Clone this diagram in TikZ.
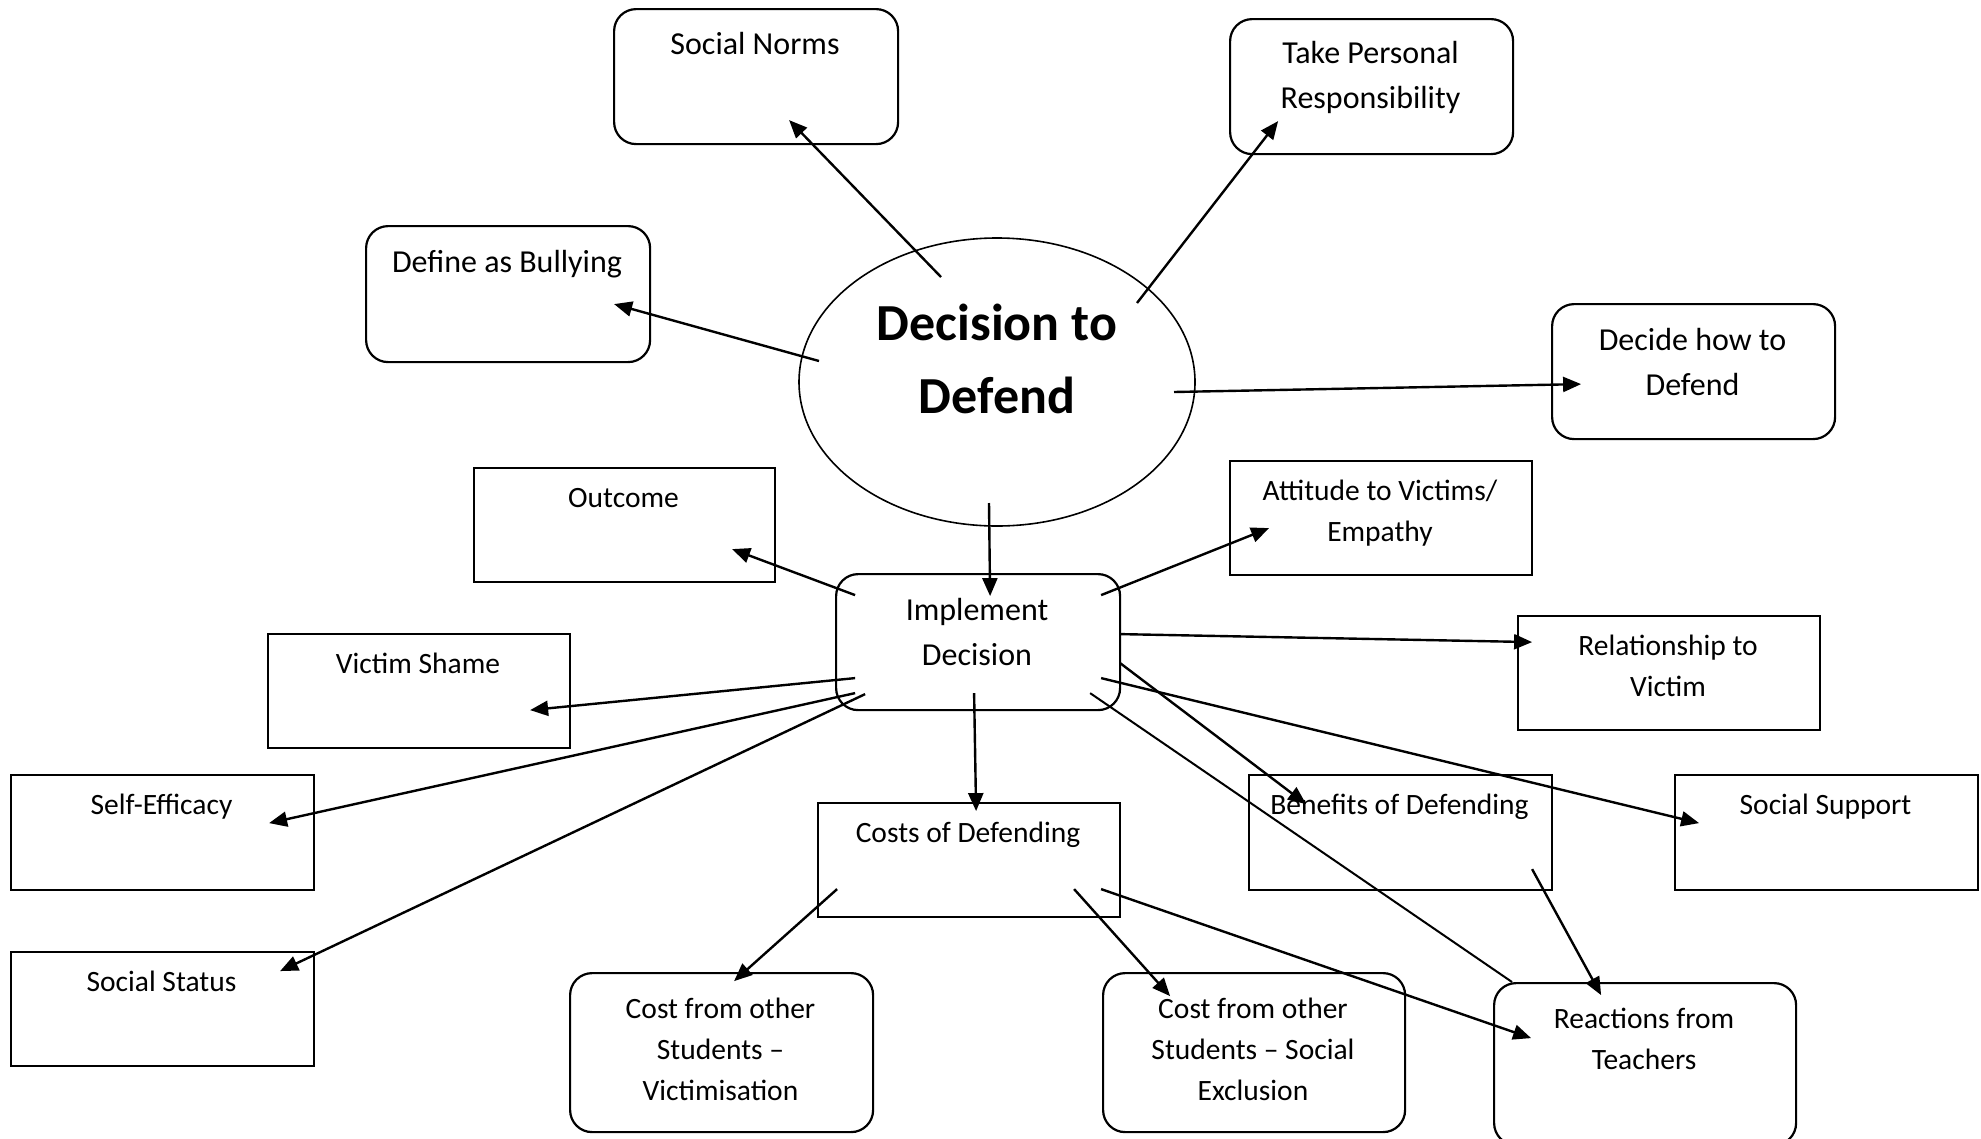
\documentclass[tikz,border=0pt]{standalone}
\usepackage{fontspec}
\setmainfont{Carlito}
\usetikzlibrary{shapes.geometric,arrows.meta}
\begin{document}
\begin{tikzpicture}[x=1pt,y=-1pt,
  box/.style={draw,line width=2.2pt,inner sep=0pt,anchor=north west},
  rbox/.style={box,rounded corners=22pt},
  % multi-line texts are placed by the baseline of their last line
  txt/.style={font=\fontsize{29.5}{41}\selectfont,align=center,anchor=base,inner sep=0pt},
  wtxt/.style={txt,font=\fontsize{32}{45}\selectfont},
  arr/.style={-{Triangle[length=18pt,width=15pt]},line width=2.4pt},
  plain/.style={line width=2pt}]
\useasboundingbox[fill=white] (0,0) rectangle (1981,1138);

% central decision
\node[ellipse,draw,line width=1.6pt,minimum width=396pt,minimum height=288pt,inner sep=0pt] (dd) at (997,382) {};
\node[txt,font=\fontsize{52}{73}\selectfont\bfseries] (ddt) at (997,413) {Decision to\\Defend};

% rounded boxes
\node[rbox,minimum width=284pt,minimum height=135pt] (sn) at (613,8) {};
\node[rbox,minimum width=283pt,minimum height=135pt] (tp) at (1229,18) {};
\node[rbox,minimum width=284pt,minimum height=136pt] (db) at (365,225) {};
\node[rbox,minimum width=283pt,minimum height=135pt] (dh) at (1551,303) {};
\node[rbox,minimum width=284pt,minimum height=136pt] (id) at (835,573) {};
\node[rbox,minimum width=303pt,minimum height=159pt] (cv) at (569,972) {};
\node[rbox,minimum width=302pt,minimum height=159pt] (cx) at (1102,972) {};
\node[rbox,minimum width=302pt,minimum height=162pt] (rt) at (1493,982) {};

% square boxes
\node[box,minimum width=301pt,minimum height=114pt] (oc) at (473,467) {};
\node[box,minimum width=302pt,minimum height=114pt] (at) at (1229,460) {};
\node[box,minimum width=302pt,minimum height=114pt] (vs) at (267,633) {};
\node[box,minimum width=302pt,minimum height=114pt] (rv) at (1517,615) {};
\node[box,minimum width=303pt,minimum height=115pt] (se) at (10,774) {};
\node[box,minimum width=302pt,minimum height=114pt] (cd) at (817,802) {};
\node[box,minimum width=303pt,minimum height=115pt] (bd) at (1248,774) {};
\node[box,minimum width=303pt,minimum height=115pt] (ss) at (1674,774) {};
\node[box,minimum width=303pt,minimum height=114pt] (st) at (10,951) {};

% box texts
\node[wtxt] (snt) at (755,54) {Social Norms};
\node[wtxt] (tpt) at (1370.5,108) {Take Personal\\Responsibility};
\node[wtxt] (dbt) at (507,272) {Define as Bullying};
\node[wtxt] (dht) at (1692.5,395) {Decide how to\\Defend};
\node[txt] (oct) at (623.5,507) {Outcome};
\node[txt] (att) at (1380,541) {Attitude to Victims/\\Empathy};
\node[wtxt] (idt) at (977,665) {Implement\\Decision};
\node[txt] (vst) at (418,673) {Victim Shame};
\node[txt] (rvt) at (1668,696) {Relationship to\\Victim};
\node[txt] (set) at (161.5,814) {Self-Efficacy};
\node[txt] (cdt) at (968,842) {Costs of Defending};
\node[txt] (bdt) at (1399.5,814) {Benefits of Defending};
\node[txt] (sst) at (1825.5,814) {Social Support};
\node[txt] (stt) at (161.5,991) {Social Status};
\node[txt] (cvt) at (720.5,1100) {Cost from other\\Students –\\Victimisation};
\node[txt] (cxt) at (1253,1100) {Cost from other\\Students – Social\\Exclusion};
\node[txt] (rtt) at (1644,1069) {Reactions from\\Teachers};

% connectors from the decision
\draw[arr] ([shift={(-56,-105)}]dd.center) -- ([shift={(33,43.5)}]sn.center);
\draw[arr] ([shift={(140,-79)}]dd.center) -- ([shift={(-93.5,34.5)}]tp.center);
\draw[arr] ([shift={(-178,-21)}]dd.center) -- ([shift={(106,10)}]db.center);
\draw[arr] ([shift={(177,10)}]dd.center) -- ([shift={(-112.5,12.5)}]dh.center);
\draw[arr] ([shift={(-8,121)}]dd.center) -- ([shift={(12,-46)}]id.center);

% connectors from the implementation
\draw[arr] ([shift={(-123,-47)}]id.center) -- ([shift={(107.5,24)}]oc.center);
\draw[arr] ([shift={(123,-47)}]id.center) -- ([shift={(-112,10)}]at.center);
\draw[arr] ([shift={(142,-8)}]id.center) -- ([shift={(-137,-31)}]rv.center);
\draw[arr] ([shift={(-123,36)}]id.center) -- ([shift={(111,19)}]vs.center);
\draw[arr] ([shift={(-123,51)}]id.center) -- ([shift={(106.5,-9.5)}]se.center);
\draw[arr] ([shift={(-113,52)}]id.center) -- ([shift={(117.5,-38)}]st.center);
\draw[arr] ([shift={(-4,51)}]id.center) -- ([shift={(7,-49)}]cd.center);
\draw[arr] ([shift={(142,21)}]id.center) -- ([shift={(-94.5,-28.5)}]bd.center);
\draw[arr] ([shift={(123,36)}]id.center) -- ([shift={(-127.5,-9.5)}]ss.center);
\draw[plain] ([shift={(112,51)}]id.center) -- ([shift={(19,0)}]rt.north west);

% connectors from benefits and costs
\draw[arr] ([shift={(131.5,36.5)}]bd.center) -- ([shift={(-44,-69)}]rt.center);
\draw[arr] ([shift={(-132,29)}]cd.center) -- ([shift={(12.5,-71.5)}]cv.center);
\draw[arr] ([shift={(105,29)}]cd.center) -- ([shift={(-84,-56.5)}]cx.center);
\draw[arr] ([shift={(132,29)}]cd.center) -- ([shift={(-114,-26)}]rt.center);
\end{tikzpicture}
\end{document}
